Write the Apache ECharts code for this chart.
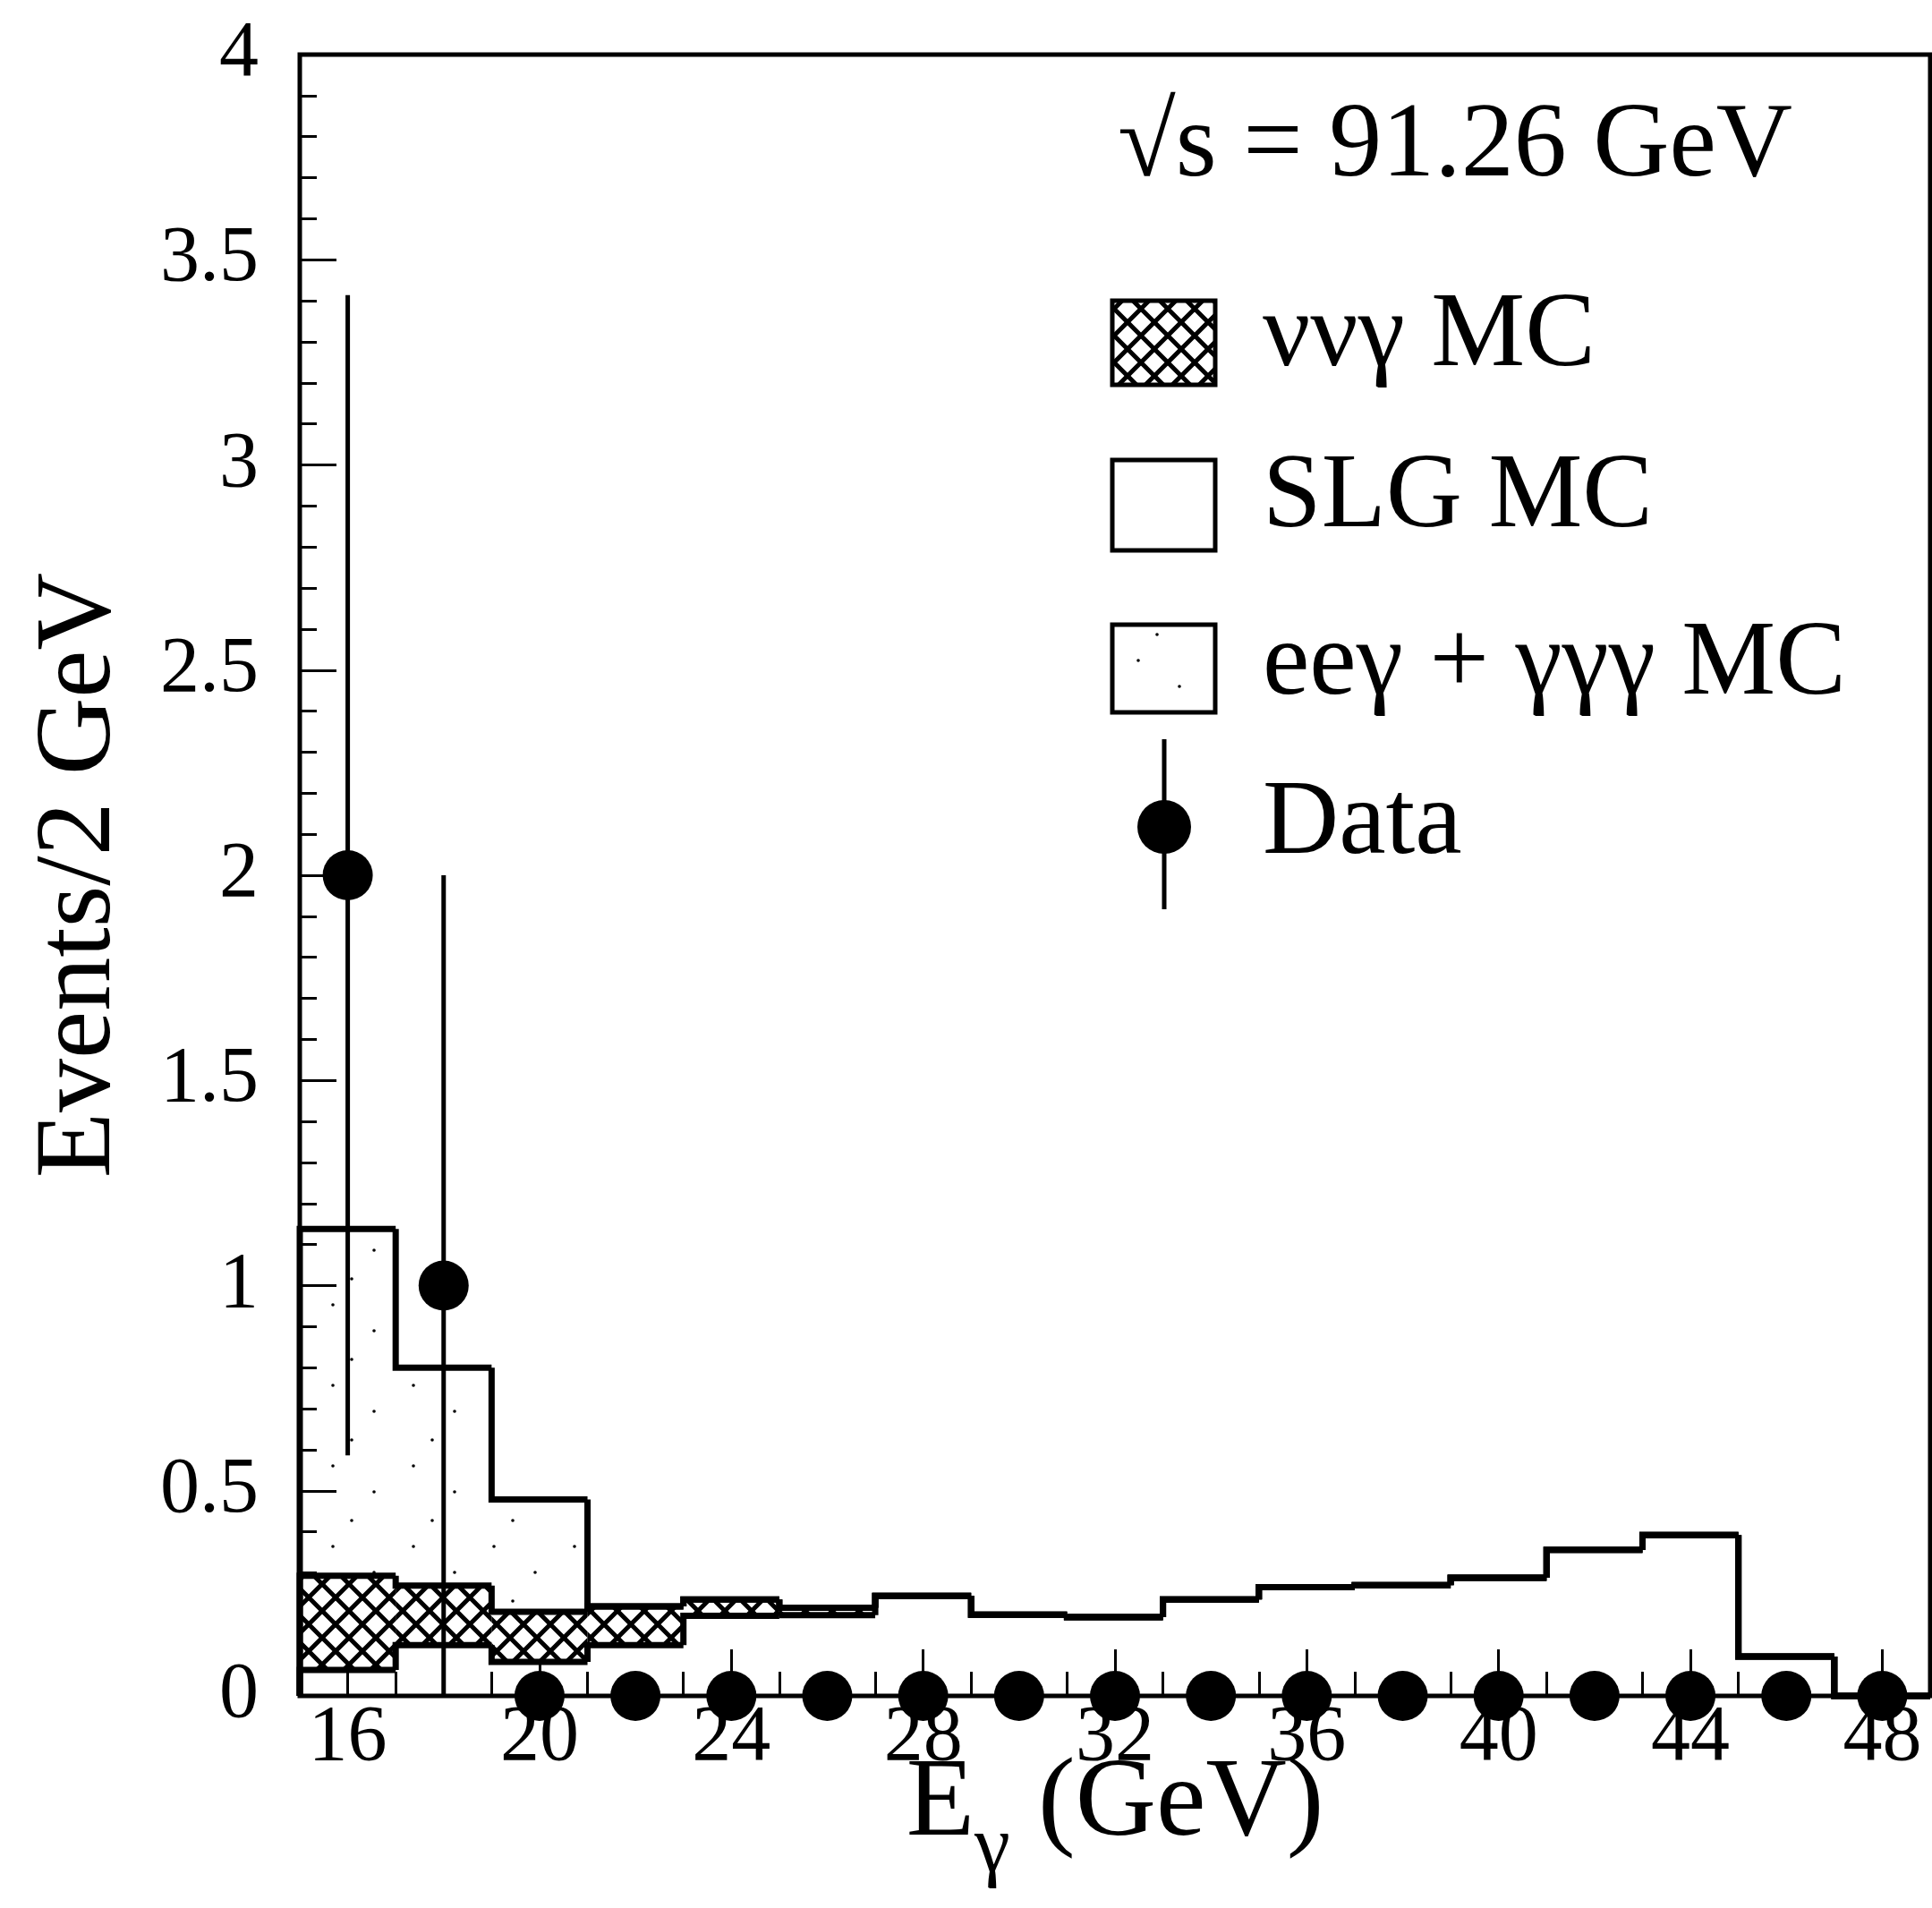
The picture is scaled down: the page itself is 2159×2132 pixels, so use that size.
<!DOCTYPE html>
<html>
<head>
<meta charset="utf-8">
<script src="https://cdn.jsdelivr.net/npm/echarts@6/dist/echarts.min.js"></script>
<style>
  html, body { margin: 0; padding: 0; background: #fff; }
  #main { width: 2159px; height: 2132px; }
</style>
</head>
<body>
<div id="main"></div>
<script>
// bins are 2 GeV wide, given by their centres
var binCenters = [16, 18, 20, 22, 24, 26, 28, 30, 32, 34, 36, 38, 40, 42, 44, 46, 48];
var slgMC      = [0.063, 0.124, 0.083, 0.124, 0.195, 0.197, 0.244, 0.198, 0.192, 0.235, 0.265, 0.270, 0.288, 0.356, 0.392, 0.096, 0.0];
var nunugMC    = [0.230, 0.145, 0.122, 0.094, 0.040, 0.018, 0, 0, 0, 0, 0, 0, 0, 0, 0, 0, 0];
var eegMC      = [0.845, 0.531, 0.274, 0, 0, 0, 0, 0, 0, 0, 0, 0, 0, 0, 0, 0, 0];

var dataE       = [16, 18, 20, 22, 24, 26, 28, 30, 32, 34, 36, 38, 40, 42, 44, 46, 48];
var dataCounts  = [2, 1, 0, 0, 0, 0, 0, 0, 0, 0, 0, 0, 0, 0, 0, 0, 0];
var dataErrLow  = [0.586, 0, 0, 0, 0, 0, 0, 0, 0, 0, 0, 0, 0, 0, 0, 0, 0];
var dataErrHigh = [3.414, 2.0, 0, 0, 0, 0, 0, 0, 0, 0, 0, 0, 0, 0, 0, 0, 0];

var xMajorTicks = [16, 20, 24, 28, 32, 36, 40, 44, 48];
var xMinorTicks = [15, 16, 17, 18, 19, 20, 21, 22, 23, 24, 25, 26, 27, 28, 29, 30, 31, 32,
                   33, 34, 35, 36, 37, 38, 39, 40, 41, 42, 43, 44, 45, 46, 47, 48, 49];

var halfBin = 1;
var serif = 'Liberation Serif';

// cross hatch for the nu nu gamma component
function makeHatch() {
    var c = document.createElement('canvas');
    c.width = 30; c.height = 30;
    var ctx = c.getContext('2d');
    ctx.fillStyle = '#fff';
    ctx.fillRect(0, 0, 30, 30);
    ctx.strokeStyle = '#000';
    ctx.lineWidth = 5;
    ctx.beginPath();
    ctx.moveTo(-2, -2); ctx.lineTo(32, 32);
    ctx.moveTo(32, -2); ctx.lineTo(-2, 32);
    ctx.stroke();
    return c;
}
// sparse dots for the ee gamma + gamma gamma gamma component
function makeDots() {
    var c = document.createElement('canvas');
    c.width = 90; c.height = 90;
    var ctx = c.getContext('2d');
    ctx.fillStyle = '#000';
    [[12, 18], [58, 47], [33, 79]].forEach(function (p) {
        ctx.beginPath();
        ctx.arc(p[0], p[1], 1.8, 0, Math.PI * 2);
        ctx.fill();
    });
    return c;
}
var hatch = { image: makeHatch(), repeat: 'repeat' };
var dots = { image: makeDots(), repeat: 'repeat' };

// cumulative levels of the stack: SLG, then nu nu gamma, then ee gamma
var level1 = [], level2 = [], level3 = [];
for (var i = 0; i < binCenters.length; i++) {
    level1.push(slgMC[i]);
    level2.push(slgMC[i] + nunugMC[i]);
    level3.push(slgMC[i] + nunugMC[i] + eegMC[i]);
}

function bandData(lower, upper) {
    return binCenters.map(function (x, i) { return [x, lower[i], upper[i]]; });
}
function stepData(levels) {
    return binCenters.map(function (x, i) { return [x, levels[i], i > 0 ? levels[i - 1] : 0]; });
}

function bandSeries(lower, upper, fill) {
    return {
        type: 'custom',
        z: 2,
        silent: true,
        data: bandData(lower, upper),
        renderItem: function (params, api) {
            var a = api.coord([api.value(0) - halfBin, api.value(2)]);
            var b = api.coord([api.value(0) + halfBin, api.value(1)]);
            if (b[1] - a[1] < 0.5) return;
            return {
                type: 'rect',
                shape: { x: a[0], y: a[1], width: b[0] - a[0], height: b[1] - a[1] },
                style: { fill: fill, stroke: null }
            };
        }
    };
}

function stepSeries(levels) {
    return {
        type: 'custom',
        z: 3,
        silent: true,
        data: stepData(levels),
        renderItem: function (params, api) {
            var x = api.value(0);
            var p0 = api.coord([x - halfBin, api.value(2)]);
            var p1 = api.coord([x - halfBin, api.value(1)]);
            var p2 = api.coord([x + halfBin, api.value(1)]);
            return {
                type: 'polyline',
                shape: { points: [p0, p1, p2] },
                style: { stroke: '#000', lineWidth: 7, fill: null, lineJoin: 'miter' }
            };
        }
    };
}

var chart = echarts.init(document.getElementById('main'));

var option = {
    animation: false,
    backgroundColor: '#fff',
    grid: {
        left: 335, right: 2, top: 61, bottom: 237,
        outerBoundsMode: 'none',
        containLabel: false,
        show: true, borderColor: '#000', borderWidth: 5, backgroundColor: 'transparent'
    },
    xAxis: [{
        type: 'value',
        min: 15, max: 49,
        axisLine: { show: false },
        splitLine: { show: false },
        axisTick: { inside: true, length: 52, customValues: xMajorTicks, lineStyle: { color: '#000', width: 3 } },
        axisLabel: { customValues: xMajorTicks, color: '#000', fontFamily: serif, fontSize: 88, margin: 4 },
        name: '{e|E}{g|γ}{p| (GeV)}',
        nameLocation: 'middle',
        nameGap: 87,
        nameMoveOverlap: false,
        nameTextStyle: {
            rich: {
                e: { fontFamily: serif, fontSize: 125, lineHeight: 130, color: '#000', verticalAlign: 'bottom', padding: [0, 0, 32, 0] },
                g: { fontFamily: serif, fontSize: 90, lineHeight: 95, color: '#000', verticalAlign: 'bottom' },
                p: { fontFamily: serif, fontSize: 125, lineHeight: 130, color: '#000', verticalAlign: 'bottom', padding: [0, 0, 32, 0] }
            }
        }
    }, {
        type: 'value',
        min: 15, max: 49,
        position: 'bottom',
        axisLine: { show: false },
        splitLine: { show: false },
        axisLabel: { show: false },
        axisTick: { inside: true, length: 27, customValues: xMinorTicks, lineStyle: { color: '#000', width: 3 } }
    }],
    yAxis: {
        type: 'value',
        min: 0, max: 4, interval: 0.5,
        axisLine: { show: false },
        splitLine: { show: false },
        axisTick: { inside: true, length: 41, lineStyle: { color: '#000', width: 3 } },
        minorTick: { show: true, splitNumber: 5, length: 19, lineStyle: { color: '#000', width: 3 } },
        axisLabel: { color: '#000', fontFamily: serif, fontSize: 88, margin: 46 },
        name: 'Events/2 GeV',
        nameLocation: 'middle',
        nameRotate: 90,
        nameGap: 185,
        nameMoveOverlap: false,
        nameTextStyle: { fontFamily: serif, fontSize: 120, color: '#000' }
    },
    graphic: [
        { type: 'text', left: 1249, top: 106, style: { text: '√s = 91.26 GeV', font: '118px "Liberation Serif"', fill: '#000' } },

        { type: 'rect', shape: { x: 1243, y: 336, width: 115, height: 94 }, style: { fill: hatch, stroke: '#000', lineWidth: 5 } },
        { type: 'text', left: 1411, top: 318, style: { text: 'ννγ MC', font: '118px "Liberation Serif"', fill: '#000' } },

        { type: 'rect', shape: { x: 1243, y: 514, width: 115, height: 101 }, style: { fill: '#fff', stroke: '#000', lineWidth: 5 } },
        { type: 'text', left: 1411, top: 498, style: { text: 'SLG MC', font: '118px "Liberation Serif"', fill: '#000' } },

        { type: 'rect', shape: { x: 1243, y: 698, width: 115, height: 98 }, style: { fill: dots, stroke: '#000', lineWidth: 5 } },
        { type: 'text', left: 1411, top: 685, style: { text: 'eeγ + γγγ MC', font: '118px "Liberation Serif"', fill: '#000' } },

        { type: 'line', shape: { x1: 1301, y1: 826, x2: 1301, y2: 1016 }, style: { stroke: '#000', lineWidth: 5 } },
        { type: 'circle', shape: { cx: 1301, cy: 924, r: 30 }, style: { fill: '#000' } },
        { type: 'text', left: 1411, top: 863, style: { text: 'Data', font: '118px "Liberation Serif"', fill: '#000' } }
    ],
    series: [
        bandSeries(level1, level2, hatch),
        bandSeries(level2, level3, dots),
        stepSeries(level1),
        stepSeries(level2),
        stepSeries(level3),
        {
            type: 'custom',
            z: 4,
            silent: true,
            data: dataE.map(function (x, i) { return [x, dataErrLow[i], dataErrHigh[i]]; }),
            renderItem: function (params, api) {
                if (api.value(2) <= api.value(1)) return;
                var lo = api.coord([api.value(0), api.value(1)]);
                var hi = api.coord([api.value(0), api.value(2)]);
                return {
                    type: 'line',
                    shape: { x1: lo[0], y1: lo[1], x2: hi[0], y2: hi[1] },
                    style: { stroke: '#000', lineWidth: 5 }
                };
            }
        },
        {
            type: 'scatter',
            z: 5,
            silent: true,
            symbol: 'circle',
            symbolSize: 56,
            itemStyle: { color: '#000', opacity: 1 },
            data: dataE.map(function (x, i) { return [x, dataCounts[i]]; })
        }
    ]
};

chart.setOption(option);
</script>
</body>
</html>
